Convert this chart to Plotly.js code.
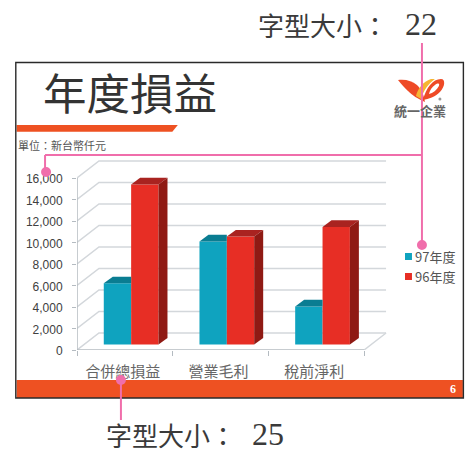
<!DOCTYPE html>
<html>
<head>
<meta charset="utf-8">
<script src="https://cdn.plot.ly/plotly-3.0.1.min.js"></script>
<style>html,body{margin:0;padding:0;background:#fff}#c{width:465px;height:453px}</style>
</head>
<body>
<div id="c"></div>
<script>
const categories = ['合併總損益', '營業毛利', '稅前淨利'];
const positions = [0, 1, 2];
const series97 = [5700, 9600, 3550];
const series96 = [14900, 10050, 10950];
const seriesNames = ['97年度', '96年度'];
const yTicks = [0, 2000, 4000, 6000, 8000, 10000, 12000, 14000, 16000];
const yTickLabels = ['0', '2,000', '4,000', '6,000', '8,000', '10,000', '12,000', '14,000', '16,000'];
const xBoundaries = [-0.5, 0.5, 1.5, 2.5];

const W = 465, H = 453;
const L = 76.5, R = 392, T = 158, B = 350;
const pxPerCat = 95.85, pxPerUnit = 172 / 16000;
const pw = R - L, ph = B - T;
const xr = [-0.5, -0.5 + pw / pxPerCat];
const yr = [0, ph / pxPerUnit];
const cx = p => p / pxPerCat, cy = p => p / pxPerUnit;
const px = x => (x - L) / pw;
const py = y => (B - y) / ph;

const barW = cx(27.4), shift = cx(6.3), baseV = cy(5.4);
const dX = cx(9), dY = cy(6.6), wX = cx(22), wY = cy(17);

const teal = '#0fa3bf', tealTop = '#0a7d92', red = '#e72e25', redSide = '#8f1a14', redTop = '#a92320';
const grid = '#d3d7db', axisC = '#b4bbc1', orange = '#ee5122', pink = '#f06eab';

function poly(xs, ys, color) {
  return {type: 'scatter', mode: 'lines', x: xs.concat(xs[0]), y: ys.concat(ys[0]), fill: 'toself',
    fillcolor: color, line: {width: 0, color: color}, hoverinfo: 'skip', showlegend: false};
}

const traces = [
  {type: 'bar', name: seriesNames[0], x: positions, y: series97, base: baseV, width: barW, offset: shift - barW,
   marker: {color: teal, line: {width: 0}}, showlegend: false},
  {type: 'bar', name: seriesNames[1], x: positions, y: series96, base: baseV, width: barW, offset: shift,
   marker: {color: red, line: {width: 0}}, showlegend: false}
];
positions.forEach((p, i) => {
  const tx0 = p + shift - barW, tx1 = p + shift, rx1 = p + shift + barW;
  const tTop = baseV + series97[i], rTop = baseV + series96[i];
  traces.push(poly([tx0, tx0 + dX, tx1, tx1], [tTop, tTop + dY, tTop + dY, tTop], tealTop));
  traces.push(poly([tx1, tx1 + dX, rx1 + dX, rx1], [rTop, rTop + dY, rTop + dY, rTop], redTop));
  traces.push(poly([rx1, rx1 + dX, rx1 + dX, rx1], [baseV, baseV + dY, rTop + dY, rTop], redSide));
});

const x0 = xBoundaries[0], x1 = xBoundaries[xBoundaries.length - 1];
const shapes = [];
function rectP(a, b, c, d, fill, line, layer) {
  shapes.push({type: 'rect', xref: 'paper', yref: 'paper', x0: px(a), x1: px(c), y0: py(b), y1: py(d),
    fillcolor: fill, line: line || {width: 0}, layer: layer || 'above'});
}
function pathP(pts, fill) {
  const d = pts.map((q, i) => (i ? 'L' : 'M') + px(q[0]) + ',' + py(q[1])).join(' ') + ' Z';
  shapes.push({type: 'path', xref: 'paper', yref: 'paper', path: d, fillcolor: fill, line: {width: 0}, layer: 'above'});
}
function curveP(d, fill) {
  const path = d.replace(/(-?[\d.]+) (-?[\d.]+)/g, (m, a, b) => px(+a) + ',' + py(+b));
  shapes.push({type: 'path', xref: 'paper', yref: 'paper', path: path, fillcolor: fill, line: {width: 0}, layer: 'above'});
}
function lineP(a, b, c, d, color, width) {
  shapes.push({type: 'line', xref: 'paper', yref: 'paper', x0: px(a), y0: py(b), x1: px(c), y1: py(d),
    line: {color: color, width: width}, layer: 'above'});
}
function dot(a, b, r) {
  shapes.push({type: 'circle', xref: 'paper', yref: 'paper', x0: px(a - r), x1: px(a + r), y0: py(b - r), y1: py(b + r),
    fillcolor: pink, line: {width: 0}, layer: 'above'});
}

// back-wall gridlines, side-wall diagonals
yTicks.forEach(v => {
  shapes.push({type: 'path', xref: 'x', yref: 'y', layer: 'below',
    path: `M${x0},${v} L${x0 + wX},${v + wY} L${x1 + wX},${v + wY}`,
    line: {color: grid, width: 1.5}});
});
shapes.push({type: 'path', xref: 'x', yref: 'y', layer: 'below',
  path: `M${x1},0 L${x1 + wX},${wY}`, line: {color: grid, width: 1.5}});
shapes.push({type: 'line', xref: 'x', yref: 'y', layer: 'below', x0: x0, x1: x1, y0: 0, y1: 0, line: {color: axisC, width: 1.5}});
shapes.push({type: 'line', xref: 'x', yref: 'y', layer: 'below', x0: x0, x1: x0, y0: 0, y1: yTicks[yTicks.length - 1], line: {color: axisC, width: 1.5}});

// slide furniture
rectP(16, 380, 463, 398, orange);
pathP([[16, 125], [177.5, 125], [172, 131.7], [16, 131.7]], orange);
rectP(15.2, 62.5, 463.5, 398, 'rgba(0,0,0,0)', {color: '#2a2a2a', width: 1.4});

// legend swatches
rectP(405, 253, 412, 260, teal);
rectP(405, 273, 412, 280, red);

// logo
curveP('M398 80 C406 79 412 81 417 85 C421 89 424 95 425 102 C418 99 412 95 408 91 C404 87 401 84 398 80 Z', '#ee4a26');
curveP('M416 96 C418 88 423 82 431 79 L435 79 C428 84 424 90 421 99 Z', '#f6b532');
curveP('M423 100 C426 88 433 79 441 79 C446 79 445 87 440 92 C435 97 429 99 423 100 Z M429 94 C433 93 437 90 439 86 C440 83 438 83 435 85 C432 87 430 90 429 94 Z', '#ee4a26');
shapes.push({type: 'circle', xref: 'paper', yref: 'paper', x0: px(438.5), x1: px(441.5), y0: py(97.5), y1: py(100.5), fillcolor: '#999', line: {width: 0}, layer: 'above'});

// pink callouts
lineP(422, 43, 422, 245, pink, 2);
lineP(44.5, 155, 422, 155, pink, 2);
lineP(44.5, 155, 44.5, 172, pink, 2);
lineP(120.5, 380, 120.5, 420, pink, 2);
dot(422, 245, 5);
dot(45.5, 172, 5);
dot(120.5, 380, 5);

const cjk = '"Noto Sans CJK TC", sans-serif';
const serif = '"Liberation Serif", serif';
function note(text, x, y, size, color, family, anchor) {
  return {text: text, xref: 'paper', yref: 'paper', x: px(x), y: py(y), showarrow: false,
    xanchor: anchor || 'left', yanchor: 'middle', borderpad: 0, borderwidth: 0,
    font: {size: size, color: color, family: family || cjk}};
}
const annotations = [
  note('年度損益', 42.5, 91, 43.5, '#333333'),
  note('單位：新台幣仟元', 17, 145, 11, '#555555'),
  note('<b>統一企業</b>', 420.5, 110, 13, '#666666', cjk, 'center'),
  note(seriesNames[0], 415.5, 256, 13, '#555555'),
  note(seriesNames[1], 415.5, 276, 13, '#555555'),
  note('<b>6</b>', 453, 388.5, 12, '#ffffff', serif, 'center'),
  note('字型大小：', 258, 24, 26, '#3a3a3a'),
  note('22', 405, 24, 32, '#3a3a3a', serif),
  note('字型大小：', 106, 434, 26, '#3a3a3a'),
  note('25', 252, 434, 32, '#3a3a3a', serif)
];

const layout = {
  width: W, height: H, autosize: false,
  margin: {l: L, r: W - R, t: T, b: H - B, pad: 0},
  paper_bgcolor: '#ffffff', plot_bgcolor: 'rgba(0,0,0,0)',
  showlegend: false, barmode: 'overlay',
  xaxis: {range: xr, tickmode: 'array', tickvals: positions, ticktext: categories, ticks: '',
    showgrid: false, zeroline: false, showline: false, ticklabelstandoff: 11, ticklabelshift: -2,
    tickfont: {family: cjk, size: 15, color: '#666666'},
    minor: {tickmode: 'array', tickvals: xBoundaries, ticks: 'outside', ticklen: 5, tickcolor: axisC, tickwidth: 1, showgrid: false}},
  yaxis: {range: yr, tickmode: 'array', tickvals: yTicks, ticktext: yTickLabels, ticks: 'outside', ticklen: 4,
    tickcolor: axisC, tickwidth: 1, showgrid: false, zeroline: false, showline: false, ticklabelstandoff: 7, ticklabelshift: 1,
    tickfont: {family: '"Liberation Sans", sans-serif', size: 12, color: '#404040'}},
  shapes: shapes,
  annotations: annotations
};
Plotly.newPlot('c', traces, layout, {displayModeBar: false, staticPlot: true});
</script>
</body>
</html>
